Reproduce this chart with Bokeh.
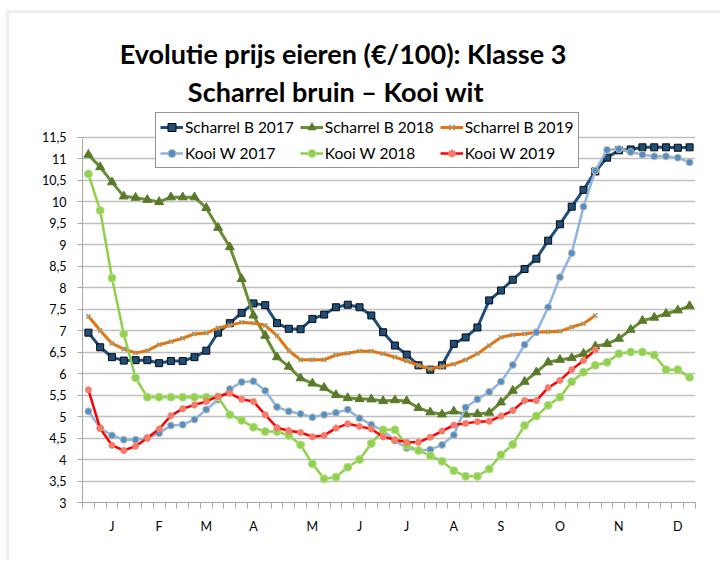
from bokeh.plotting import figure
from bokeh.models import (FixedTicker, CustomJSTickFormatter, Legend, LegendItem,
                          Label, Range1d, InlineStyleSheet)
from bokeh.embed import file_html
from bokeh.resources import INLINE

# ---------------- data ----------------
weeks = list(range(1, 53))
months = ["J", "F", "M", "A", "M", "J", "J", "A", "S", "O", "N", "D"]
month_weeks = [3, 7, 11, 15, 20, 24, 28, 32, 36, 41, 46, 51]
y_ticks = [3, 3.5, 4, 4.5, 5, 5.5, 6, 6.5, 7, 7.5, 8, 8.5, 9, 9.5, 10, 10.5, 11, 11.5]

scharrel_b_2017 = [6.95, 6.61, 6.38, 6.30, 6.31, 6.31, 6.24, 6.29, 6.29, 6.38,
                   6.53, 6.95, 7.17, 7.41, 7.63, 7.59, 7.17, 7.04, 7.03, 7.27,
                   7.37, 7.54, 7.60, 7.54, 7.35, 6.96, 6.65, 6.44, 6.19, 6.09,
                   6.19, 6.69, 6.84, 7.07, 7.70, 7.93, 8.18, 8.43, 8.67, 9.09,
                   9.47, 9.88, 10.27, 10.70, 11.02, 11.19, 11.21, 11.26, 11.26, 11.26,
                   11.25, 11.26]
scharrel_b_2018 = [11.09, 10.80, 10.45, 10.12, 10.09, 10.04, 9.99, 10.10, 10.10, 10.10,
                   9.85, 9.39, 8.94, 8.20, 7.35, 6.88, 6.38, 6.16, 5.89, 5.77,
                   5.67, 5.50, 5.43, 5.41, 5.40, 5.36, 5.38, 5.36, 5.20, 5.10,
                   5.05, 5.12, 5.05, 5.06, 5.09, 5.33, 5.60, 5.81, 6.03, 6.26,
                   6.32, 6.36, 6.46, 6.63, 6.69, 6.81, 7.02, 7.23, 7.30, 7.39,
                   7.47, 7.57]
scharrel_b_2019 = [7.33, 7.00, 6.70, 6.57, 6.48, 6.53, 6.67, 6.74, 6.82, 6.92,
                   6.94, 7.06, 7.12, 7.19, 7.17, 7.12, 6.88, 6.53, 6.32, 6.32,
                   6.32, 6.43, 6.47, 6.52, 6.52, 6.46, 6.38, 6.29, 6.19, 6.11,
                   6.16, 6.22, 6.32, 6.46, 6.65, 6.84, 6.90, 6.92, 6.96, 6.97,
                   6.98, 7.08, 7.16, 7.35]
kooi_w_2017 = [5.12, 4.73, 4.56, 4.46, 4.46, 4.50, 4.61, 4.79, 4.81, 4.93,
               5.16, 5.39, 5.64, 5.80, 5.82, 5.60, 5.22, 5.12, 5.06, 4.98,
               5.04, 5.09, 5.16, 4.96, 4.81, 4.67, 4.44, 4.27, 4.21, 4.23,
               4.34, 4.57, 5.21, 5.40, 5.57, 5.81, 6.20, 6.67, 6.96, 7.54,
               8.24, 8.80, 9.88, 10.72, 11.20, 11.22, 11.15, 11.09, 11.05, 11.05,
               11.02, 10.91]
kooi_w_2018 = [10.64, 9.79, 8.22, 6.92, 5.90, 5.45, 5.45, 5.45, 5.45, 5.45,
               5.45, 5.45, 5.04, 4.91, 4.75, 4.65, 4.65, 4.56, 4.34, 3.90,
               3.55, 3.59, 3.82, 4.00, 4.37, 4.69, 4.69, 4.33, 4.21, 4.09,
               3.96, 3.74, 3.61, 3.61, 3.78, 4.11, 4.35, 4.79, 5.01, 5.26,
               5.45, 5.81, 6.03, 6.19, 6.26, 6.46, 6.50, 6.50, 6.43, 6.09,
               6.09, 5.91]
kooi_w_2019 = [5.62, 4.72, 4.33, 4.21, 4.31, 4.50, 4.71, 5.02, 5.18, 5.27,
               5.35, 5.47, 5.54, 5.40, 5.35, 5.04, 4.74, 4.67, 4.63, 4.53,
               4.56, 4.73, 4.83, 4.77, 4.71, 4.53, 4.46, 4.40, 4.40, 4.52,
               4.66, 4.80, 4.84, 4.88, 4.89, 5.01, 5.14, 5.37, 5.37, 5.67,
               5.84, 6.09, 6.30, 6.55]

FONT = "Lato"

# ---------------- figure ----------------
# frame extends above the 11.5 line so that title and legend (which overlap the
# top of the chart area) can be drawn inside it
p = figure(width=720, height=560, output_backend="svg", toolbar_location=None,
           x_range=Range1d(0.5, 52.5), y_range=Range1d(3, 14),
           frame_width=613, frame_height=473,
           min_border_left=82, min_border_right=25, min_border_top=29,
           min_border_bottom=58)
p.outline_line_color = None
p.background_fill_color = "white"
p.border_fill_color = "white"
# light grey frame line along the top and left edge of the chart object
p.stylesheets = [InlineStyleSheet(css=(
    ":host::before { content: ''; position: absolute; left: 6px; top: 10px; "
    "right: 0; bottom: 0; border-top: 3px solid #EEEEEE; "
    "border-left: 3px solid #EEEEEE; pointer-events: none; z-index: 5; }"))]

# x axis: month labels, week boundary tick marks
p.xaxis.ticker = FixedTicker(ticks=month_weeks,
                             minor_ticks=[w - 0.5 for w in weeks] + [weeks[-1] + 0.5])
p.xaxis.major_label_overrides = {w: m for w, m in zip(month_weeks, months)}
p.xaxis.major_tick_line_color = None
p.xaxis.major_tick_out = 0
p.xaxis.major_tick_in = 0
p.xaxis.minor_tick_out = 6
p.xaxis.minor_tick_in = 0
p.xaxis.minor_tick_line_color = "#A6A6A6"
p.xaxis.axis_line_color = "#A6A6A6"
p.xaxis.major_label_standoff = 10
p.xgrid.grid_line_color = None

# y axis
p.yaxis.ticker = FixedTicker(ticks=y_ticks)
p.yaxis.bounds = (3, 11.5)
p.yaxis.formatter = CustomJSTickFormatter(code="return tick.toString().replace('.', ',');")
p.yaxis.major_tick_out = 5
p.yaxis.major_tick_in = 0
p.yaxis.minor_tick_line_color = None
p.yaxis.major_tick_line_color = "#A6A6A6"
p.yaxis.axis_line_color = "#A6A6A6"
p.yaxis.major_label_standoff = 11
p.ygrid.grid_line_color = "#C0C0C0"
p.ygrid.grid_line_width = 1.5

for ax in (p.xaxis, p.yaxis):
    ax.major_label_text_font = FONT
    ax.major_label_text_font_size = "12.5px"
    ax.major_label_text_color = "#000000"

# ---------------- series ----------------
def wk(vals):
    return weeks[:len(vals)]

items = []

l = p.line(wk(scharrel_b_2017), scharrel_b_2017, line_color="#1F4E79", line_width=3)
s = p.scatter(wk(scharrel_b_2017), scharrel_b_2017, marker="square", size=7,
              fill_color="#1F4E79", line_color="#0A0A0A", line_width=1)
items.append(LegendItem(label="Scharrel B 2017", renderers=[l, s]))

l = p.line(wk(scharrel_b_2018), scharrel_b_2018, line_color="#6A8C34", line_width=3)
s = p.scatter(wk(scharrel_b_2018), scharrel_b_2018, marker="triangle", size=9,
              fill_color="#5A7A2B", line_color="#5A7A2B", line_width=1)
items.append(LegendItem(label="Scharrel B 2018", renderers=[l, s]))

l = p.line(wk(scharrel_b_2019), scharrel_b_2019, line_color="#E8720C", line_width=3)
s = p.scatter(wk(scharrel_b_2019), scharrel_b_2019, marker="x", size=6,
              line_color="#A09C70", line_width=1.5)
items.append(LegendItem(label="Scharrel B 2019", renderers=[l, s]))

l = p.line(wk(kooi_w_2017), kooi_w_2017, line_color="#8DB4E2", line_width=2.5)
s = p.scatter(wk(kooi_w_2017), kooi_w_2017, marker="circle", size=7,
              fill_color="#4F8ED0", line_color="#C9BE94", line_width=1)
items.append(LegendItem(label="Kooi W 2017", renderers=[l, s]))

l = p.line(wk(kooi_w_2018), kooi_w_2018, line_color="#8FCF4A", line_width=2.5)
s = p.scatter(wk(kooi_w_2018), kooi_w_2018, marker="circle", size=8,
              fill_color="#92D050", line_color="#B5E08A", line_width=1)
items.append(LegendItem(label="Kooi W 2018", renderers=[l, s]))

l = p.line(wk(kooi_w_2019), kooi_w_2019, line_color="#FF0000", line_width=2.5)
s = p.scatter(wk(kooi_w_2019), kooi_w_2019, marker="asterisk", size=7,
              line_color="#F47C6B", line_width=2)
items.append(LegendItem(label="Kooi W 2019", renderers=[l, s]))

legend = Legend(items=items, location=(73, 334), orientation="horizontal", ncols=3,
                label_text_font=FONT, label_text_font_size="15.5px",
                label_text_color="#000000", label_standoff=2,
                glyph_width=23, glyph_height=20, label_height=20,
                spacing=6, padding=4, margin=0,
                border_line_color="#262626", border_line_width=1,
                background_fill_color="white", background_fill_alpha=1.0)
p.add_layout(legend)

# ---------------- title (two centred lines) ----------------
p.add_layout(Label(x=22.6, y=13.45, text="Evolutie prijs eieren (€/100): Klasse 3",
                   text_align="center", text_baseline="middle",
                   text_font=FONT, text_font_style="bold", text_font_size="27px",
                   text_color="#000000"))
p.add_layout(Label(x=22.0, y=12.56, text="Scharrel bruin – Kooi wit",
                   text_align="center", text_baseline="middle",
                   text_font=FONT, text_font_style="bold", text_font_size="27px",
                   text_color="#000000"))

open("out.html", "w").write(file_html(p, INLINE))
